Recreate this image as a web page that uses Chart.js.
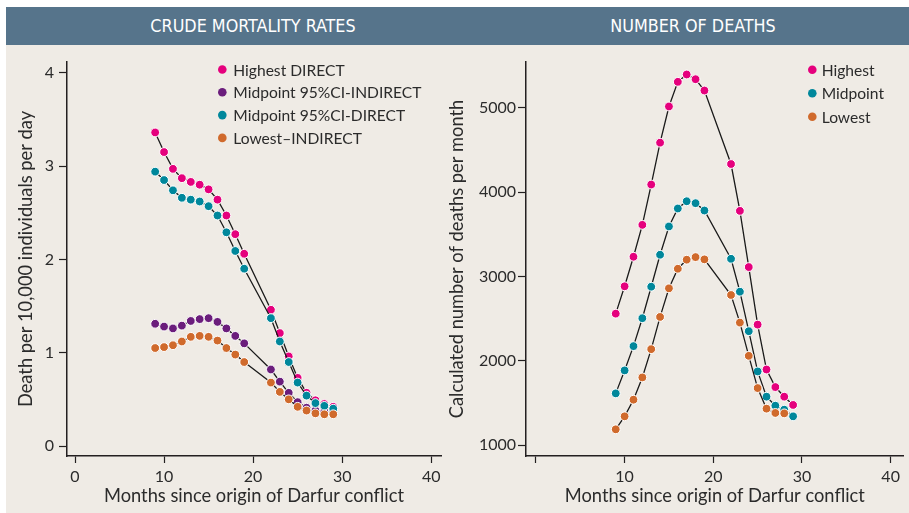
<!DOCTYPE html>
<html><head><meta charset="utf-8">
<script src="https://cdn.jsdelivr.net/npm/chart.js@4"></script>
<style>
html,body{margin:0;padding:0;background:#fff;width:909px;height:513px;overflow:hidden}
#panel{position:absolute;left:6px;top:45px;width:903px;height:468px;background:#efebe5}
#bar{position:absolute;left:6px;top:7px;width:903px;height:38px;background:#56748b}
.ht{position:absolute;top:7px;height:38px;line-height:38px;color:#fff;font-family:"DejaVu Sans Condensed";font-size:17.8px;transform:translateX(-50%);white-space:nowrap}
canvas{position:absolute;top:0}
#c1{left:0}
#c2{left:440px}
</style></head>
<body>
<div id="panel"></div>
<div id="bar"></div>
<div class="ht" style="left:253px">CRUDE MORTALITY RATES</div>
<div class="ht" style="left:693px">NUMBER OF DEATHS</div>
<canvas id="c1" width="455" height="513"></canvas>
<canvas id="c2" width="469" height="513"></canvas>
<script>
// ---- data ----
const months = [9,10,11,12,13,14,15,16,17,18,19,22,23,24,25,26,27,28,29];
const xTicks = [0,10,20,30,40];
const rateTicks = [0,1,2,3,4];
const deathTicks = [1000,2000,3000,4000,5000];

const rateLabels = ['Highest DIRECT','Midpoint 95%CI-INDIRECT','Midpoint 95%CI-DIRECT','Lowest\u2013INDIRECT'];
const rateHighestDirect   = [3.36,3.15,2.97,2.87,2.83,2.80,2.75,2.64,2.47,2.27,2.06,1.46,1.21,0.96,0.73,0.57,0.49,0.45,0.42];
const rateMidIndirect     = [1.31,1.28,1.26,1.29,1.34,1.36,1.37,1.33,1.26,1.18,1.10,0.82,0.69,0.57,0.47,0.41,0.38,0.37,0.36];
const rateMidDirect       = [2.94,2.85,2.74,2.66,2.64,2.62,2.57,2.47,2.29,2.09,1.90,1.37,1.12,0.90,0.68,0.54,0.46,0.43,0.40];
const rateLowestIndirect  = [1.05,1.06,1.08,1.12,1.17,1.18,1.17,1.13,1.05,0.98,0.90,0.68,0.58,0.50,0.42,0.38,0.35,0.34,0.34];

const deathLabels = ['Highest','Midpoint','Lowest'];
const deathsHighest  = [2560,2884,3234,3612,4090,4586,5015,5307,5394,5338,5204,4333,3778,3112,2430,1898,1690,1576,1478];
const deathsMidpoint = [1615,1887,2175,2506,2879,3258,3593,3806,3892,3869,3782,3210,2820,2352,1875,1576,1469,1422,1343];
const deathsLowest   = [1189,1343,1540,1804,2139,2521,2860,3092,3199,3230,3203,2781,2454,2060,1678,1434,1383,1378,null];

// ---- styles ----
const PINK='#e5007d', PURPLE='#6b1d7c', TEAL='#00879b', ORANGE='#d06a2c';
const INK='#2b2b2b', AXIS='#231f20';

function pts(vals){ return months.map((m,i)=>({x:m,y:vals[i]})).filter(p=>p.y!==null && p.y!==undefined); }
function ds(label,vals,color,order){
  return {label, data:pts(vals), order, showLine:true, borderColor:'#1a1a1a', borderWidth:1.3, tension:0,
    pointRadius:4.4, pointBorderWidth:1, pointBorderColor:'#ffffff', pointBackgroundColor:color, backgroundColor:color};
}

const dotLegend = {
  id:'dotLegend',
  afterDraw(chart, args, o){
    const ctx=chart.ctx; ctx.save();
    ctx.font='15.6px Lato'; ctx.textBaseline='middle'; ctx.textAlign='left';
    chart.data.datasets.forEach((d,i)=>{
      const y=o.y+i*o.dy;
      ctx.beginPath(); ctx.arc(o.x,y,4.3,0,Math.PI*2); ctx.fillStyle=d.pointBackgroundColor; ctx.fill();
      ctx.fillStyle=INK; ctx.fillText(d.label,o.x+o.gap,y+1);
    });
    ctx.restore();
  }
};

function xScale(min,max,hideZero){
  return {type:'linear', min, max,
    afterBuildTicks:s=>{s.ticks=xTicks.map(v=>({value:v}));},
    afterFit:s=>{s.height=57;},
    grid:{display:true, drawOnChartArea:false, drawTicks:true, tickLength:7, tickWidth:1.2, tickColor:AXIS, color:AXIS},
    border:{display:true, color:AXIS, width:1.5},
    ticks:{color:INK, font:{family:'Lato', size:16}, padding:4, maxRotation:0, autoSkip:false,
      callback:v=> (hideZero && v===0) ? '' : String(v)},
    title:{display:true, text:'Months since origin of Darfur conflict', color:INK, font:{family:'Lato', size:18.3}, padding:{top:0,bottom:6.4}}
  };
}
function yScale(min,max,tickVals,width,title,titlePad,tickPad){
  return {type:'linear', min, max,
    afterBuildTicks:s=>{s.ticks=tickVals.map(v=>({value:v}));},
    afterFit:s=>{s.width=width;},
    grid:{display:true, drawOnChartArea:false, drawTicks:true, tickLength:8, tickWidth:1.2, tickColor:AXIS, color:AXIS},
    border:{display:true, color:AXIS, width:1.5},
    ticks:{color:INK, font:{family:'Lato', size:16}, padding:tickPad, autoSkip:false, callback:v=>String(v)},
    title:{display:true, text:title, color:INK, font:{family:'Lato', size:18.3}, padding:{top:titlePad,bottom:0}}
  };
}

function build(){
  Chart.defaults.font.family='Lato';
  new Chart(document.getElementById('c1'), {
    type:'scatter',
    data:{datasets:[
      ds(rateLabels[0], rateHighestDirect, PINK, 4),
      ds(rateLabels[1], rateMidIndirect, PURPLE, 3),
      ds(rateLabels[2], rateMidDirect, TEAL, 2),
      ds(rateLabels[3], rateLowestIndirect, ORANGE, 1)
    ]},
    options:{responsive:false, animation:false,
      layout:{padding:{left:0, top:62, right:14, bottom:0}},
      plugins:{legend:{display:false}, tooltip:{enabled:false}, dotLegend:{x:222.3, y:69.5, dy:22.8, gap:11}},
      scales:{x:xScale(-0.9,41.1,false), y:yScale(-0.107,4.115,rateTicks,67,'Death per 10,000 individuals per day',15.2,5)}
    },
    plugins:[dotLegend]
  });
  new Chart(document.getElementById('c2'), {
    type:'scatter',
    data:{datasets:[
      ds(deathLabels[0], deathsHighest, PINK, 3),
      ds(deathLabels[1], deathsMidpoint, TEAL, 2),
      ds(deathLabels[2], deathsLowest, ORANGE, 1)
    ]},
    options:{responsive:false, animation:false,
      layout:{padding:{left:0, top:62, right:4, bottom:0}},
      plugins:{legend:{display:false}, tooltip:{enabled:false}, dotLegend:{x:372.3, y:69.8, dy:23.5, gap:9.4}},
      scales:{x:xScale(-1.12,41.46,true), y:yScale(873,5542,deathTicks,86,'Calculated number of deaths per month',5.9,2)}
    },
    plugins:[dotLegend]
  });
}
(document.fonts && document.fonts.load ? Promise.all([document.fonts.load('16px Lato'),document.fonts.load('17.8px "DejaVu Sans Condensed"')]) : Promise.resolve()).then(build, build);
</script>
</body></html>
